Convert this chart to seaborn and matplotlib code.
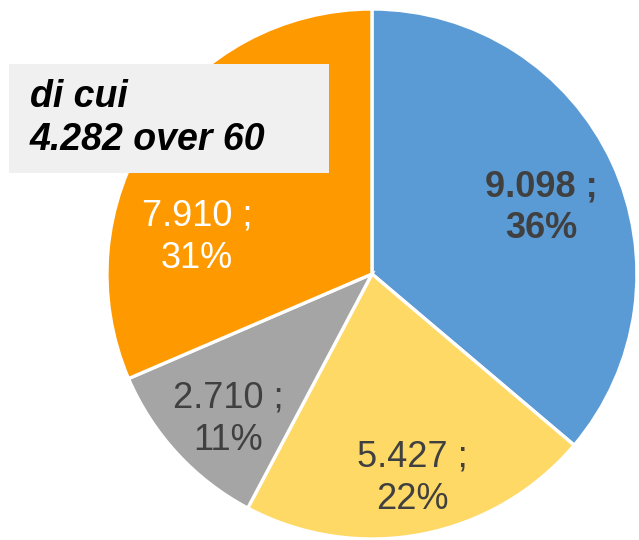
import matplotlib
matplotlib.use("Agg")
import matplotlib.pyplot as plt
import seaborn as sns
import numpy as np

# Data
values = [9098, 5427, 2710, 7910]
percents = ["36%", "22%", "11%", "31%"]
value_labels = ["9.098", "5.427", "2.710", "7.910"]
note_lines = ["di cui", "4.282 over 60"]

# Styling
colors = ["#5B9BD5", "#FED966", "#A5A5A5", "#FF9900"]
text_colors = ["#404040", "#404040", "#404040", "#FFFFFF"]
weights = ["bold", "normal", "normal", "normal"]
label_dist = [0.685, 0.785, 0.77, 0.675]
label_angle_shift = [-3.5, 0.3, 2.6, 21.5]

sns.set_theme(style="white")
plt.rcParams["font.family"] = ["Liberation Sans", "DejaVu Sans"]

fig = plt.figure(figsize=(6.39, 5.40), dpi=100)
ax = fig.add_axes([0.1674, 0.00185, 0.8294, 0.9815])

wedges, _ = ax.pie(
    values,
    colors=colors,
    startangle=90,
    counterclock=False,
    radius=1.0,
    wedgeprops=dict(edgecolor="white", linewidth=2.4),
)

for w, val, pct, tc, fw, d, shift in zip(
    wedges, value_labels, percents, text_colors, weights, label_dist, label_angle_shift
):
    ang = np.deg2rad((w.theta1 + w.theta2) / 2 + shift)
    x, y = d * np.cos(ang), d * np.sin(ang)
    ax.text(x, y, f"{val} ;\n{pct}", ha="center", va="center",
            fontsize=26, color=tc, fontweight=fw, linespacing=1.27)

ax.set_xlim(-1, 1)
ax.set_ylim(-1, 1)
ax.set_aspect("equal")
ax.axis("off")

# Annotation box
box_ax = fig.add_axes([9 / 639, 1 - 173 / 540, 320 / 639, 109 / 540])
box_ax.set_xlim(0, 1)
box_ax.set_ylim(0, 1)
box_ax.set_facecolor("#F0F0F0")
for s in box_ax.spines.values():
    s.set_visible(False)
box_ax.set_xticks([])
box_ax.set_yticks([])
box_ax.text(21 / 320, 0.5, "\n".join(note_lines), ha="left", va="center",
            fontsize=27, fontweight="bold", fontstyle="italic", color="#000000",
            linespacing=1.22)

fig.savefig("out.png", dpi=100)
